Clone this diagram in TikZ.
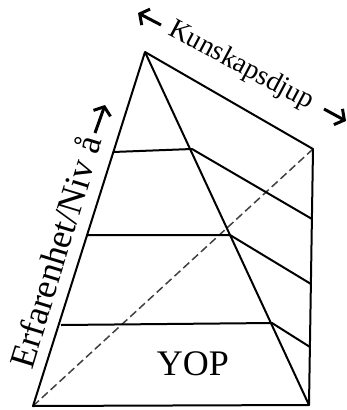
\documentclass[tikz,border=0pt]{standalone}
\usepackage{fontspec}
\setmainfont{Liberation Serif}
\usetikzlibrary{arrows.meta}
\begin{document}
\begin{tikzpicture}[x=1pt,y=-1pt,
  edge/.style={line width=2pt, line join=round},
  diag/.style={line width=1.5pt, dash pattern=on 8pt off 4pt, draw=black!75},
  bigarrow/.style={line width=3pt, -{Straight Barb[length=7pt,width=18pt,line width=3pt]}},
  lbl/.style={inner sep=0pt, font=\fontsize{28}{28}\selectfont}]
\useasboundingbox (0,0) rectangle (347,410);
\clip (0,0) rectangle (347,410);
% corners
\coordinate (A) at (145,52);
\coordinate (R) at (313,149);
\coordinate (BL) at (33,406);
\coordinate (BR) at (309,405);
% level points
\coordinate (l1a) at (113,152); \coordinate (l1b) at (192,149); \coordinate (l1c) at (312,219);
\coordinate (l2a) at (86,235);  \coordinate (l2b) at (230,235); \coordinate (l2c) at (311,284);
\coordinate (l3a) at (61,325);  \coordinate (l3b) at (272,323); \coordinate (l3c) at (310,347);
% dashed diagonal
\draw[diag] (BL) -- (R);
% pyramid
\draw[edge] (BL) -- (A) -- (BR) -- cycle;
\draw[edge] (A) -- (R) -- (BR);
\draw[edge] (l1a) -- (l1b) -- (l1c);
\draw[edge] (l2a) -- (l2b) -- (l2c);
\draw[edge] (l3a) -- (l3b) -- (l3c);
% labels
\node[inner sep=0pt, font=\fontsize{36}{36}\selectfont] (yop) at (193,364) {YOP};
\node[lbl, rotate=-28] (kd) at (241,66) {Kunskapsdjup};
\node[inner sep=0pt, rotate=73, font=\fontsize{36}{36}\selectfont] (erf) at (55,252) {Erfarenhet/Niv å};
% arrows
\coordinate (ka1) at (161,25); \coordinate (ka2) at (138,13);
\coordinate (kb1) at (324,109); \coordinate (kb2) at (346,121);
\coordinate (ea1) at (95,133); \coordinate (ea2) at (105,105);
\draw[bigarrow] (ka1) -- (ka2);
\draw[bigarrow] (kb1) -- (kb2);
\draw[bigarrow] (ea1) -- (ea2);
\end{tikzpicture}
\end{document}
